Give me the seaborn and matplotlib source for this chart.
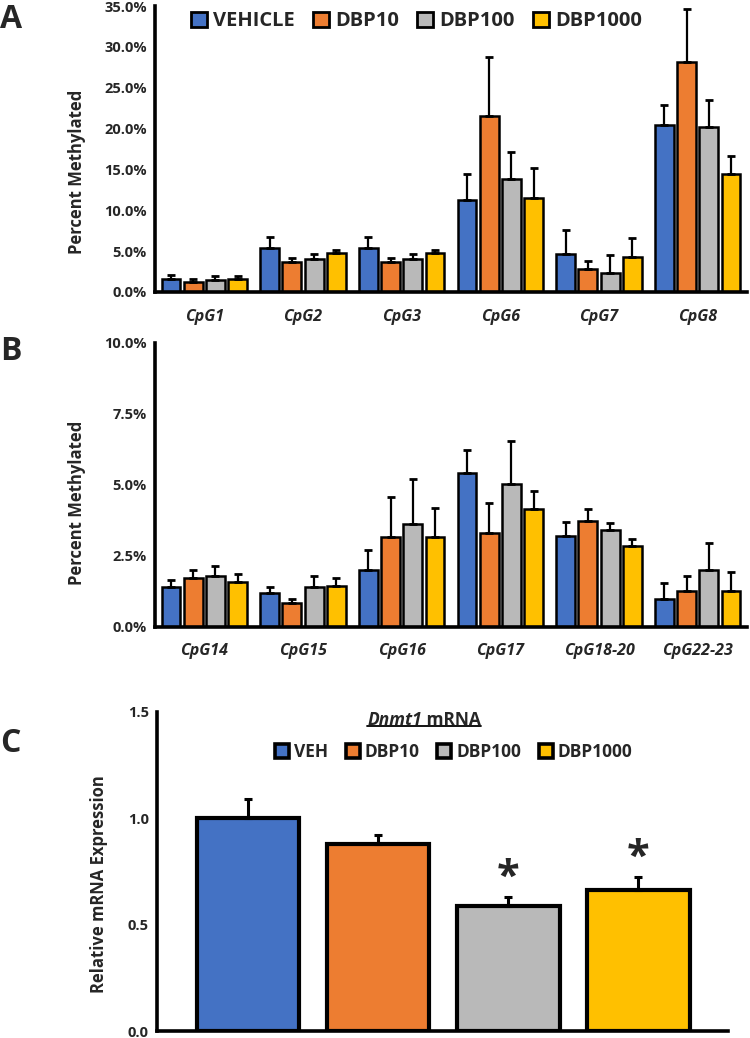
import numpy as np
import pandas as pd
import matplotlib.pyplot as plt
import seaborn as sns
from matplotlib.patches import Patch
from matplotlib.ticker import FuncFormatter, MultipleLocator

# ---- data ----
groups_a = ['VEHICLE', 'DBP10', 'DBP100', 'DBP1000']
groups_c = ['VEH', 'DBP10', 'DBP100', 'DBP1000']
colors = ['#4472C4', '#ED7D31', '#B9B9B9', '#FFC000']

sites_a = ['CpG1', 'CpG2', 'CpG3', 'CpG6', 'CpG7', 'CpG8']
veh_a = [1.6, 5.4, 5.4, 11.3, 4.65, 20.4]
dbp10_a = [1.25, 3.7, 3.7, 21.6, 2.8, 28.2]
dbp100_a = [1.45, 4.05, 4.05, 13.8, 2.3, 20.2]
dbp1000_a = [1.55, 4.75, 4.75, 11.45, 4.3, 14.4]
veh_a_err = [0.5, 1.3, 1.3, 3.2, 2.9, 2.45]
dbp10_a_err = [0.4, 0.5, 0.5, 7.1, 1.0, 6.4]
dbp100_a_err = [0.5, 0.6, 0.6, 3.35, 2.25, 3.35]
dbp1000_a_err = [0.4, 0.4, 0.4, 3.7, 2.25, 2.25]

sites_b = ['CpG14', 'CpG15', 'CpG16', 'CpG17', 'CpG18-20', 'CpG22-23']
veh_b = [1.39, 1.18, 1.98, 5.40, 3.19, 0.98]
dbp10_b = [1.70, 0.83, 3.15, 3.29, 3.72, 1.27]
dbp100_b = [1.79, 1.39, 3.61, 5.01, 3.40, 2.00]
dbp1000_b = [1.56, 1.42, 3.15, 4.13, 2.84, 1.27]
veh_b_err = [0.24, 0.21, 0.72, 0.82, 0.51, 0.56]
dbp10_b_err = [0.30, 0.15, 1.43, 1.05, 0.41, 0.52]
dbp100_b_err = [0.36, 0.40, 1.59, 1.53, 0.24, 0.94]
dbp1000_b_err = [0.30, 0.29, 1.02, 0.65, 0.25, 0.65]

dnmt1_mean = [1.0, 0.877, 0.587, 0.662]
dnmt1_err = [0.088, 0.045, 0.042, 0.064]
dnmt1_sig = ['', '', '*', '*']

# ---- style ----
sns.set_style("white")
plt.rcParams['font.family'] = ['Open Sans', 'DejaVu Sans']
plt.rcParams['font.weight'] = 'bold'
plt.rcParams['axes.labelweight'] = 'bold'


def long_form(sites, vals, errs):
    rows = []
    for g, v, e in zip(groups_a, vals, errs):
        for s, vv, ee in zip(sites, v, e):
            rows.append({'Site': s, 'Group': g, 'Mean': vv, 'Err': ee})
    return pd.DataFrame(rows)


df_a = long_form(sites_a, [veh_a, dbp10_a, dbp100_a, dbp1000_a],
                 [veh_a_err, dbp10_a_err, dbp100_a_err, dbp1000_a_err])
df_b = long_form(sites_b, [veh_b, dbp10_b, dbp100_b, dbp1000_b],
                 [veh_b_err, dbp10_b_err, dbp100_b_err, dbp1000_b_err])

fig = plt.figure(figsize=(7.5, 10.38), dpi=100)
ax_a = fig.add_axes([0.2067, 0.7187, 0.7893, 0.2755])
ax_b = fig.add_axes([0.2067, 0.3962, 0.7893, 0.2737])
ax_c = fig.add_axes([0.2093, 0.0067, 0.7614, 0.3076])


def style_axis(ax):
    for side in ['top', 'right']:
        ax.spines[side].set_visible(False)
    for side in ['left', 'bottom']:
        ax.spines[side].set_linewidth(2.6)
        ax.spines[side].set_color('black')
    ax.tick_params(axis='y', direction='out', length=4, width=2.6, labelsize=10.5, pad=2)


def methyl_panel(ax, df, sites, ymax, step, label_y):
    sns.barplot(data=df, x='Site', y='Mean', hue='Group', order=sites, hue_order=groups_a,
                palette=colors, errorbar=None, width=0.9, gap=0.15,
                edgecolor='black', linewidth=1.8, saturation=1, ax=ax, legend=False)
    # upper error bars from bar positions
    for cont, g in zip(ax.containers, groups_a):
        sub = df[df['Group'] == g].set_index('Site').loc[sites]
        xs = [p.get_x() + p.get_width() / 2 for p in cont.patches]
        ax.errorbar(xs, sub['Mean'].values, yerr=[np.zeros(len(xs)), sub['Err'].values],
                    fmt='none', ecolor='black', elinewidth=1.6, capsize=3, capthick=2, zorder=1)
    style_axis(ax)
    ax.set_xlim(-0.5, len(sites) - 0.5)
    ax.set_ylim(0, ymax)
    ax.yaxis.set_major_locator(MultipleLocator(step))
    ax.yaxis.set_major_formatter(FuncFormatter(lambda v, _: f"{v:.1f}%"))
    ax.set_xticks(np.arange(len(sites)))
    ax.set_xticklabels(sites, fontstyle='italic', fontweight='bold', fontsize=11.5)
    ax.set_xticks(np.arange(len(sites)) + 0.5, minor=True)
    ax.tick_params(axis='x', which='major', length=0, pad=12)
    ax.tick_params(axis='x', which='minor', direction='out', length=4, width=2.6)
    ax.set_xlabel('')
    ax.set_ylabel('Percent Methylated', fontsize=12, fontweight='bold')
    ax.yaxis.set_label_coords(-0.117, label_y)


methyl_panel(ax_a, df_a, sites_a, 35, 5, 0.42)
methyl_panel(ax_b, df_b, sites_b, 10, 2.5, 0.435)

handles_a = [Patch(facecolor=c, edgecolor='black', linewidth=2, label=g)
             for c, g in zip(colors, groups_a)]
ax_a.legend(handles=handles_a, loc='upper left', bbox_to_anchor=(0.03, 1.045), ncol=4,
            frameon=False, handlelength=0.8, handleheight=0.8,
            handletextpad=0.3, columnspacing=0.9, prop={'weight': 'bold', 'size': 14.5})

# ---- panel C ----
df_c = pd.DataFrame({'Group': groups_c, 'Mean': dnmt1_mean, 'Err': dnmt1_err})
sns.barplot(data=df_c, x='Group', y='Mean', hue='Group', order=groups_c, hue_order=groups_c,
            palette=colors, errorbar=None, width=0.79, edgecolor='black', linewidth=3,
            saturation=1, ax=ax_c, legend=False)
xs_c = [p.get_x() + p.get_width() / 2 for p in ax_c.patches]
ax_c.errorbar(xs_c, df_c['Mean'], yerr=[np.zeros(len(xs_c)), df_c['Err']], fmt='none',
              ecolor='black', elinewidth=2.2, capsize=3, capthick=2.2, zorder=1)
for x, m, e, s in zip(xs_c, df_c['Mean'], df_c['Err'], dnmt1_sig):
    if s:
        ax_c.text(x, m + e - 0.01, s, ha='center', va='bottom', fontsize=30, fontweight='bold')
style_axis(ax_c)
ax_c.set_xlim(-0.7, 3.69)
ax_c.set_ylim(0, 1.5)
ax_c.yaxis.set_major_locator(MultipleLocator(0.5))
ax_c.yaxis.set_major_formatter(FuncFormatter(lambda v, _: f"{v:.1f}"))
ax_c.set_xticks([])
ax_c.set_xticks([3.69], minor=True)
ax_c.tick_params(axis='x', which='minor', direction='in', length=4, width=2.6)
ax_c.set_xlabel('')
ax_c.set_ylabel('Relative mRNA Expression', fontsize=12, fontweight='bold')
ax_c.yaxis.set_label_coords(-0.086, 0.46)

handles_c = [Patch(facecolor=c, edgecolor='black', linewidth=2.6, label=g)
             for c, g in zip(colors, groups_c)]
ax_c.legend(handles=handles_c, loc='center', bbox_to_anchor=(0.52, 0.874), ncol=4,
            frameon=False, handlelength=0.8, handleheight=0.8, handletextpad=0.3,
            columnspacing=1.0, prop={'weight': 'bold', 'size': 12.5})

# title "Dnmt1 mRNA" underlined
t1 = ax_c.text(0.368, 0.975, 'Dnmt1', transform=ax_c.transAxes, fontsize=12.5,
               fontweight='bold', fontstyle='italic', ha='left', va='center')
fig.canvas.draw()
bb = t1.get_window_extent()
inv = ax_c.transAxes.inverted()
x1 = inv.transform((bb.x1, bb.y0))[0]
t2 = ax_c.text(x1, 0.975, ' mRNA', transform=ax_c.transAxes, fontsize=12.5,
               fontweight='bold', ha='left', va='center')
fig.canvas.draw()
bb2 = t2.get_window_extent()
left = inv.transform((bb.x0, bb.y0))
right = inv.transform((bb2.x1, bb2.y0))
ax_c.plot([left[0], right[0]], [left[1] + 0.008, left[1] + 0.008], transform=ax_c.transAxes,
          color='black', linewidth=1.3, clip_on=False)

# panel letters
fig.text(0.0, 0.981, 'A', fontsize=23, fontweight='bold', va='center')
fig.text(0.0, 0.661, 'B', fontsize=23, fontweight='bold', va='center')
fig.text(0.0, 0.284, 'C', fontsize=23, fontweight='bold', va='center')

plt.savefig("out.png", dpi=100)
